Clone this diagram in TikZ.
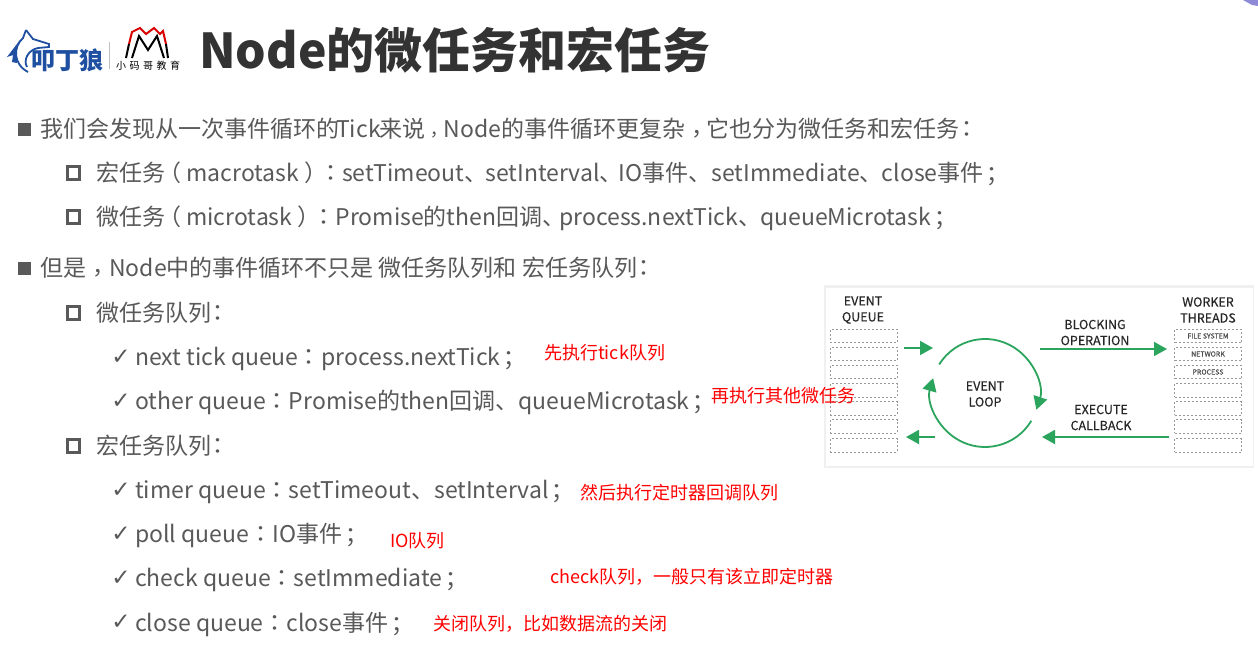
\documentclass[tikz,border=0pt]{standalone}
\usepackage{fontspec}
\setmainfont{Noto Sans CJK SC}
\newfontfamily\tcfont{Noto Sans CJK TC}
\newfontfamily\markfont{DejaVu Sans}
\newfontfamily\cardfont[FakeBold=0.35]{Noto Sans CJK SC}
\usetikzlibrary{arrows.meta,positioning}
\definecolor{bodygray}{HTML}{595959}
\definecolor{titlegray}{HTML}{333333}
\definecolor{loopgreen}{HTML}{2BA55D}
\definecolor{wolfblue}{HTML}{1F4FA0}
\definecolor{cornerblue}{HTML}{8F8AD8}
% punctuation sitting mid-box, as on the slide
\newcommand{\fwcolon}{{\tcfont ：}}
\newcommand{\fwcomma}{\raisebox{-5pt}{\tcfont ，}}
\newcommand{\fwcommasm}{\raisebox{-4pt}{\tcfont\fontsize{18}{18}\selectfont ，}}
\newcommand{\fwsemi}{\kern-3pt\raisebox{-2pt}{\tcfont ；}}
\tikzset{
  body/.style={anchor=base west,inner sep=0pt,text=bodygray,font=\fontsize{23}{23}\selectfont},
  note/.style={anchor=base west,inner sep=0pt,text=red,font=\fontsize{18}{18}\selectfont},
  sqfill/.style={draw=none,fill=bodygray,minimum size=13pt,inner sep=0pt},
  sqopen/.style={draw=bodygray,line width=3.4pt,fill=white,minimum size=12.5pt,inner sep=0pt},
  tickmark/.style={inner sep=0pt,text=bodygray,font=\markfont\fontsize{23}{23}\selectfont},
  slot/.style={draw=black!40,line width=0.7pt,dash pattern=on 2pt off 2pt,minimum width=67pt,minimum height=13.5pt,inner sep=0pt},
  cardlbl/.style={align=center,inner sep=0pt,text=black!85,font=\cardfont\fontsize{12.5}{16}\selectfont},
  slotlbl/.style={inner sep=0pt,text=black!70,font=\cardfont\fontsize{7}{7}\selectfont},
  flow/.style={-{Triangle[length=13pt,width=14pt]},draw=loopgreen,line width=1.8pt},
  wolfln/.style={draw=wolfblue,line width=1.8pt},
  mred/.style={draw=red!85!black,line width=2pt,line join=miter},
  mblack/.style={draw=black,line width=2pt},
}
\begin{document}
\begin{tikzpicture}[x=1pt,y=1pt]
  \useasboundingbox (0,0) rectangle (1258,-659);
  \fill[white] (0,0) rectangle (1258,-659);
  \fill[cornerblue] (1243,0)--(1258,0)--(1258,-6)--(1252,-5)--cycle;
  % logos
  \draw[wolfln] (26,-30)--(23,-38) .. controls (13,-47) and (13,-64) .. (28,-72);
  \draw[wolfln] (26,-30)--(33,-39)--(49,-44)--(49,-47)--(38,-48) .. controls (28,-50) and (23,-60) .. (27,-67);
  \fill[wolfblue] (20,-40)--(7,-57)--(13,-55)--(12,-62)--(17,-63)--(16,-50)--cycle;
  \node[inner sep=0pt,text=wolfblue,font=\bfseries\fontsize{24}{24}\selectfont] (wolftxt) at (67,-60) {叩丁狼};
  \draw[black!25] (109,-42)--(109,-69);
  \draw[mred] (129,-44)--(132,-32)--(140,-28)--(146,-34)--(154,-28)--(160,-34)--(163,-31)--(166,-44);
  \draw[mblack] (126,-58)--(129,-44);
  \draw[mblack] (166,-44)--(168,-58);
  \draw[mblack] (132,-58)--(139,-36)--(148,-50)--(157,-36)--(164,-58);
  \node[inner sep=0pt,font=\fontsize{10}{10}\selectfont] (xiaoma) at (148,-66) {小\kern3.5pt 码\kern3.5pt 哥\kern3.5pt 教\kern3.5pt 育};
  \node[anchor=base west,inner sep=0pt,text=titlegray,font=\bfseries\fontsize{48}{48}\selectfont] (title) at (199,-68) {Node的微任务和宏任务};
  % bullets and list text
  \foreach \n/\x/\y/\t in {
    a/40/137/{我们会发现从一次事件循环的\kern-3pt Tick\kern-1pt 来说\fwcommasm Node的事件循环更复杂\fwcomma\kern-2pt 它也分为微任务和宏任务\kern-4pt\fwcolon},
    b/96/181/{宏任务\kern-7pt（ macrotask ）\kern-8pt\fwcolon setTimeout、\kern-2pt setInterval、\kern-4pt IO事件、setImmediate、\kern-1pt close事件\fwsemi},
    c/96/225/{微任务\kern-7pt（ microtask ）\kern-8pt\fwcolon Promise的then回调、\kern-6pt process.nextTick、\kern-1pt queueMicrotask\fwsemi},
    d/40/276/{但是\fwcomma Node中的事件循环不只是 微任务队列和 宏任务队列\kern-5pt\fwcolon},
    e/96/321/{微任务队列\kern-5pt\fwcolon},
    f/135/365/{next tick queue\kern-1pt\fwcolon\kern1pt process.nextTick\fwsemi},
    g/135/409/{other queue\fwcolon Promise的then回调、queueMicrotask\fwsemi},
    h/96/454/{宏任务队列\kern-5pt\fwcolon},
    i/135/498/{timer queue\fwcolon setTimeout、setInterval\fwsemi},
    j/135/542/{poll queue\fwcolon IO事件\fwsemi},
    k/135/586/{check queue\fwcolon setImmediate\fwsemi},
    l/135/631/{close queue\fwcolon close事件\fwsemi}}{
    \node[body] (line\n) at (\x,-\y) {\t};
  }
  \foreach \n/\y in {a/129,d/268}{
    \node[sqfill] (bul\n) at (24.5,-\y) {};
  }
  \foreach \n/\y in {b/173,c/217,e/313,h/446}{
    \node[sqopen] (bul\n) at (73.5,-\y) {};
  }
  \foreach \n/\y in {f/357,g/401,i/490,j/534,k/578,l/622}{
    \node[tickmark] (bul\n) at (121,-\y) {✓};
  }
  % card with the loop
  \fill[black!6] (824,-285) rectangle (1254,-468);
  \fill[white] (826,-288) rectangle (1253,-466);
  \node[cardlbl] (evq) at (863,-310) {EVENT\\QUEUE};
  \node[cardlbl] (wkt) at (1208,-310) {WORKER\\THREADS};
  \foreach \i/\y in {1/336,2/354,3/372,4/390.5,5/408.5,6/426.5,7/445.5}{
    \node[slot] (lq\i) at (863.5,-\y) {};
    \node[slot] (rq\i) at (1208,-\y) {};
  }
  \node[slotlbl] (fs) at (rq1) {FILE SYSTEM};
  \node[slotlbl] (nw) at (rq2) {NETWORK};
  \node[slotlbl] (pr) at (rq3) {PROCESS};
  \node[cardlbl] (lp) at (985,-394) {EVENT\\LOOP};
  \node[cardlbl] (blk) at (1095,-332.5) {BLOCKING\\OPERATION};
  \node[cardlbl] (exe) at (1101,-417.5) {EXECUTE\\CALLBACK};
  \coordinate (inA) at (904,-348);
  \coordinate (inB) at (933,-348);
  \coordinate (outA) at (935,-437);
  \coordinate (outB) at (906,-437);
  \coordinate (blkA) at (1040,-349);
  \coordinate (blkB) at (1167,-349);
  \coordinate (exeA) at (1169,-437);
  \coordinate (exeB) at (1042,-437);
  \draw[flow] (inA)--(inB);
  \draw[flow] (outA)--(outB);
  \draw[flow] (blkA)--(blkB);
  \draw[flow] (exeA)--(exeB);
  \draw[flow] (985,-393)++(148:54) arc[start angle=148,end angle=-18,radius=54];
  \draw[flow] (985,-393)++(-31:54) arc[start angle=-31,end angle=-196,radius=54];
  % red notes
  \node[note] (n1) at (544,-359.5) {先执行tick队列};
  \node[note] (n2) at (711,-402.5) {再执行其他微任务};
  \node[note] (n3) at (580,-499) {然后执行定时器回调队列};
  \node[note] (n4) at (390,-547) {IO队列};
  \node[note] (n5) at (550,-583) {check队列，一般只有该立即定时器};
  \node[note] (n6) at (433,-630.5) {关闭队列，比如数据流的关闭};
\end{tikzpicture}
\end{document}
